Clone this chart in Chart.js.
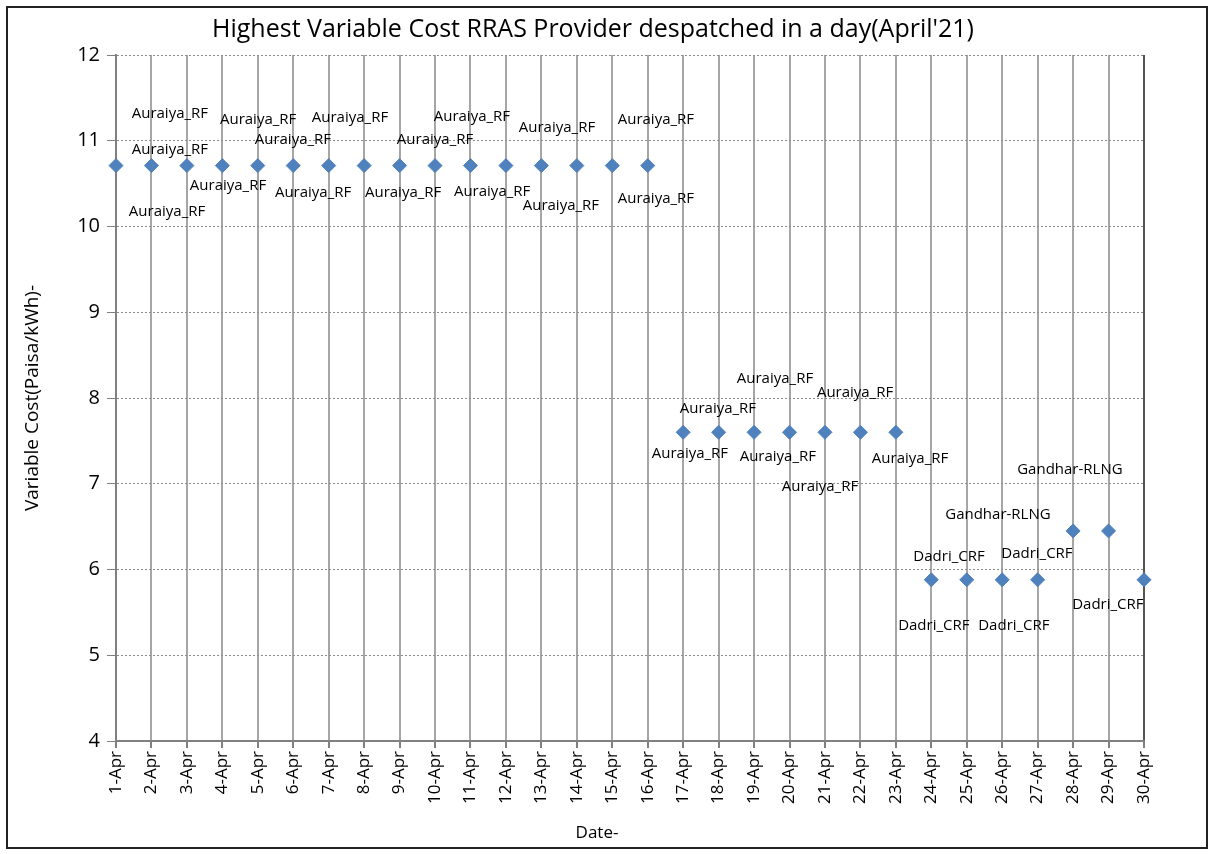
<!DOCTYPE html>
<html>
<head>
<meta charset="utf-8">
<script src="https://cdn.jsdelivr.net/npm/chart.js@4.4.0/dist/chart.umd.min.js"></script>
<style>
  html, body { margin: 0; padding: 0; background: #fff; }
  #wrap { width: 1213px; height: 854px; }
</style>
</head>
<body>
<div id="wrap"><canvas id="rrasChart"></canvas></div>
<script>
// Highest variable cost RRAS provider despatched each day, April'21

const dates = [
    '1-Apr', '2-Apr', '3-Apr', '4-Apr', '5-Apr', '6-Apr', '7-Apr', '8-Apr', '9-Apr', '10-Apr',
    '11-Apr', '12-Apr', '13-Apr', '14-Apr', '15-Apr', '16-Apr', '17-Apr', '18-Apr', '19-Apr', '20-Apr',
    '21-Apr', '22-Apr', '23-Apr', '24-Apr', '25-Apr', '26-Apr', '27-Apr', '28-Apr', '29-Apr', '30-Apr'
];

const costs = [
    10.71, 10.71, 10.71, 10.71, 10.71, 10.71, 10.71, 10.71, 10.71, 10.71,
    10.71, 10.71, 10.71, 10.71, 10.71, 10.71, 7.60, 7.60, 7.60, 7.60,
    7.60, 7.60, 7.60, 5.88, 5.88, 5.88, 5.88, 6.45, 6.45, 5.88
];

const providers = [
    'Auraiya_RF', 'Auraiya_RF', 'Auraiya_RF', 'Auraiya_RF', 'Auraiya_RF', 'Auraiya_RF', 'Auraiya_RF', 'Auraiya_RF',
    'Auraiya_RF', 'Auraiya_RF', 'Auraiya_RF', 'Auraiya_RF', 'Auraiya_RF', 'Auraiya_RF', 'Auraiya_RF', 'Auraiya_RF',
    'Auraiya_RF', 'Auraiya_RF', 'Auraiya_RF', 'Auraiya_RF', 'Auraiya_RF', 'Auraiya_RF', 'Auraiya_RF',
    'Dadri_CRF', 'Dadri_CRF', 'Dadri_CRF', 'Dadri_CRF', 'Gandhar-RLNG', 'Gandhar-RLNG', 'Dadri_CRF'
];

// where each data label sits (category index, cost) - labels were dragged around in the original
const labelAtX = [
    1.44, 1.52, 1.52, 3.16, 4.01, 4.99, 5.56, 6.60, 8.10, 9.00, 10.04, 10.61, 12.44, 12.55, 15.23, 15.23,
    16.19, 16.98, 18.59, 18.67, 19.86, 20.85, 22.40,
    23.07, 23.50, 25.33, 25.98, 24.88, 26.91, 27.98
];
const labelAtY = [
    10.17, 11.31, 10.90, 10.48, 11.25, 11.01, 10.39, 11.27, 10.39, 11.01, 11.28, 10.41, 11.15, 10.24, 11.25, 10.32,
    7.35, 7.88, 8.22, 7.32, 6.96, 8.06, 7.29,
    5.35, 6.15, 5.35, 6.18, 6.64, 7.16, 5.59
];

const FONT = "'Open Sans', Lato, sans-serif";

const frame = {
    id: 'frame',
    beforeDraw(chart) {
        const c = chart.ctx;
        c.save();
        c.fillStyle = '#fff';
        c.fillRect(0, 0, chart.width, chart.height);
        c.restore();
    },
    afterDraw(chart) {
        const c = chart.ctx;
        c.save();
        c.strokeStyle = '#222';
        c.lineWidth = 2;
        c.strokeRect(7, 7, 1200, 841);
        // x axis title sits a little left of centre in the original
        c.font = '17px ' + FONT;
        c.fillStyle = '#000';
        c.textAlign = 'center';
        c.textBaseline = 'middle';
        c.fillText('Date-', 597, 833);
        c.restore();
    }
};

const pointLabels = {
    id: 'pointLabels',
    afterDatasetsDraw(chart) {
        const c = chart.ctx;
        const xs = chart.scales.x;
        const ys = chart.scales.y;
        c.save();
        c.font = '15px ' + FONT;
        c.fillStyle = '#000';
        c.textAlign = 'center';
        c.textBaseline = 'middle';
        providers.forEach((name, i) => {
            c.fillText(name, xs.getPixelForValue(labelAtX[i]), ys.getPixelForValue(labelAtY[i]));
        });
        c.restore();
    }
};

new Chart(document.getElementById('rrasChart'), {
    type: 'line',
    data: {
        labels: dates,
        datasets: [{
            data: costs,
            showLine: false,
            pointStyle: 'rectRot',
            pointRadius: 7,
            pointBackgroundColor: '#4F81BD',
            pointBorderColor: '#4F81BD',
            pointBorderWidth: 1
        }]
    },
    options: {
        responsive: true,
        maintainAspectRatio: false,
        animation: false,
        layout: { padding: { top: 7, left: 42, right: 69, bottom: 10 } },
        plugins: {
            legend: { display: false },
            tooltip: { enabled: false },
            title: {
                display: true,
                text: "Highest Variable Cost RRAS Provider despatched in a day(April'21)",
                color: '#000',
                font: { family: FONT, size: 25, weight: 'normal' },
                padding: { top: 8, bottom: 10 }
            }
        },
        scales: {
            x: {
                offset: false,
                grid: {
                    color: ctx => ctx.index === dates.length - 1 ? '#555' : '#a6a6a6',
                    lineWidth: 2,
                    tickLength: 7,
                    tickColor: '#808080'
                },
                border: { color: '#808080', width: 2 },
                ticks: {
                    color: '#000',
                    font: { family: FONT, size: 17 },
                    minRotation: 90,
                    maxRotation: 90,
                    padding: 3,
                    autoSkip: false
                },
                afterFit(scale) {
                    scale.height = 103;
                    scale.paddingLeft = 0;
                    scale.paddingRight = 0;
                }
            },
            y: {
                min: 4,
                max: 12,
                ticks: {
                    stepSize: 1,
                    color: '#000',
                    font: { family: FONT, size: 20 },
                    padding: 7
                },
                grid: {
                    color: '#8c8c8c',
                    lineWidth: 1,
                    tickLength: 9,
                    tickColor: '#808080',
                    tickBorderDash: []
                },
                border: { color: '#808080', width: 2, dash: [2, 2] },
                title: {
                    display: true,
                    text: 'Variable Cost(Paisa/kWh)-',
                    color: '#000',
                    font: { family: FONT, size: 19 },
                    padding: { top: -20.4, bottom: 0 }
                },
                afterFit(scale) {
                    scale.width = 74;
                    scale.paddingTop = 0;
                    scale.paddingBottom = 0;
                }
            }
        }
    },
    plugins: [frame, pointLabels]
});
</script>
</body>
</html>
